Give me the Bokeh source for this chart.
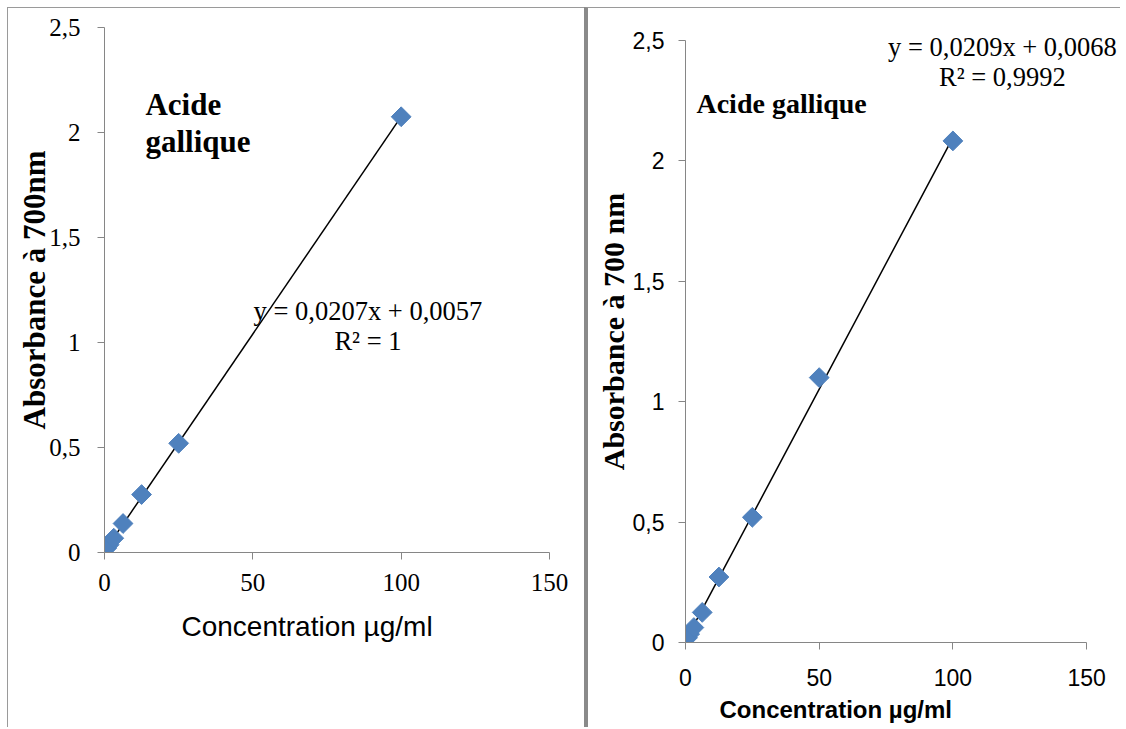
import numpy as np
from bokeh.plotting import figure
from bokeh.layouts import row
from bokeh.models import Range1d, FixedTicker, Label, CustomJSTickFormatter, Title
from bokeh.embed import file_html
from bokeh.resources import INLINE

# ---------------- data ----------------
left_conc = [0.78, 1.56, 3.125, 6.25, 12.5, 25, 100]
left_abs = [0.021, 0.037, 0.068, 0.138, 0.276, 0.52, 2.075]
left_slope, left_intercept, left_r2 = 0.0207, 0.0057, "1"

right_conc = [0.78, 1.56, 3.125, 6.25, 12.5, 25, 50, 100]
right_abs = [0.02, 0.035, 0.062, 0.125, 0.272, 0.52, 1.10, 2.083]
right_slope, right_intercept, right_r2 = 0.0209, 0.0068, "0,9992"

x_ticks = [0, 50, 100, 150]
y_ticks = [0, 0.5, 1, 1.5, 2, 2.5]

title_text = "Acide gallique"
x_label = "Concentration  µg/ml"
left_y_label = "Absorbance à 700nm"
right_y_label = "Absorbance à 700 nm"

SERIF = "'Liberation Serif', 'Times New Roman', serif"
SANS = "'Liberation Sans', Arial, sans-serif"
AXIS_COL = "#868686"
MARK_COL = "#4F81BD"

comma_fmt = CustomJSTickFormatter(code="return tick.toString().replace('.', ',');")


def eq_text(slope, intercept):
    return ("y = %.4fx + %.4f" % (slope, intercept)).replace(".", ",")


def base_fig(width, height, bl, br, bt, bb, styles, x_end, y_end):
    p = figure(width=width, height=height, output_backend="svg", toolbar_location=None,
               x_range=Range1d(0, x_end), y_range=Range1d(0, y_end),
               min_border_left=bl, min_border_right=br, min_border_top=bt, min_border_bottom=bb,
               styles=styles, frame_align=False)
    p.outline_line_color = None
    p.xgrid.visible = False
    p.ygrid.visible = False
    p.background_fill_color = "white"
    p.border_fill_color = "white"
    p.xaxis.ticker = FixedTicker(ticks=x_ticks)
    p.xaxis.bounds = (x_ticks[0], x_ticks[-1])
    p.yaxis.ticker = FixedTicker(ticks=y_ticks)
    p.yaxis.bounds = (y_ticks[0], y_ticks[-1])
    p.yaxis.formatter = comma_fmt
    for ax in (p.xaxis[0], p.yaxis[0]):
        ax.axis_line_color = AXIS_COL
        ax.axis_line_width = 1
        ax.major_tick_line_color = AXIS_COL
        ax.major_tick_in = 0
        ax.major_tick_out = 7
        ax.minor_tick_line_color = None
        ax.major_label_text_color = "black"
        ax.axis_label_text_color = "black"
    return p


def lbl(x, y, text, font, size, style="normal", align="left"):
    return Label(x=x, y=y, text=text, text_font=font, text_font_style=style,
                 text_font_size=size, text_align=align, text_baseline="alphabetic",
                 text_color="black")


# ---------------- left panel ----------------
pl = base_fig(577, 720, 96, 36, 19, 176,
              {"margin-top": "7px", "margin-left": "7px",
               "border-top": "1px solid #9a9a9a", "border-left": "1px solid #9a9a9a"}, 150, 2.5)
for ax in (pl.xaxis[0], pl.yaxis[0]):
    ax.major_label_text_font = SERIF
    ax.major_label_text_font_size = "25px"
pl.xaxis.major_label_standoff = 14
pl.yaxis.major_label_standoff = 17
pl.yaxis.axis_label = left_y_label
pl.yaxis.axis_label_text_font = SERIF
pl.yaxis.axis_label_text_font_style = "bold"
pl.yaxis.axis_label_text_font_size = "31px"
pl.yaxis.axis_label_standoff = -6
pl.add_layout(Title(text=x_label, align="left", offset=77, standoff=30,
                    text_font=SANS, text_font_size="28px", text_font_style="normal",
                    text_color="black"), "below")

lx = [min(left_conc), max(left_conc)]
pl.line(lx, [left_slope * v + left_intercept for v in lx], line_color="black", line_width=1.5)
pl.scatter(left_conc, left_abs, marker="square", angle=np.pi / 4, size=14,
           fill_color=MARK_COL, line_color=MARK_COL)

title_words = title_text.split(" ")
pl.add_layout(lbl(13.8, 2.133, title_words[0], SERIF, "31px", "bold"))
pl.add_layout(lbl(13.8, 1.957, title_words[1], SERIF, "31px", "bold"))
pl.add_layout(lbl(88.8, 1.152, eq_text(left_slope, left_intercept), SERIF, "26.5px", align="center"))
pl.add_layout(lbl(88.8, 1.009, "R² = " + left_r2, SERIF, "26.5px", align="center"))

# ---------------- right panel ----------------
# frame extended past 150 / 2.5 (axis lines bounded) so the equation is not cut
pr = base_fig(536, 720, 97, 5, 12, 86,
              {"margin-top": "7px",
               "border-top": "1px solid #9a9a9a", "border-left": "4px solid #8a8a8a"}, 162.3, 2.583)
for ax in (pr.xaxis[0], pr.yaxis[0]):
    ax.major_label_text_font = SANS
    ax.major_label_text_font_size = "23px"
pr.xaxis.major_label_standoff = 19
pr.yaxis.major_label_standoff = 14
pr.yaxis.axis_label = right_y_label
pr.yaxis.axis_label_text_font = SERIF
pr.yaxis.axis_label_text_font_style = "bold"
pr.yaxis.axis_label_text_font_size = "30px"
pr.yaxis.axis_label_standoff = 0
pr.add_layout(Title(text=x_label, align="left", offset=34, standoff=11,
                    text_font=SANS, text_font_size="24px", text_font_style="bold",
                    text_color="black"), "below")

rx = [min(right_conc), max(right_conc)]
pr.line(rx, [right_slope * v + right_intercept for v in rx], line_color="black", line_width=1.5)
pr.scatter(right_conc, right_abs, marker="square", angle=np.pi / 4, size=14,
           fill_color=MARK_COL, line_color=MARK_COL)

pr.add_layout(lbl(4.1, 2.238, title_text, SERIF, "28px", "bold"))
pr.add_layout(lbl(118.5, 2.471, eq_text(right_slope, right_intercept), SERIF, "26.5px", align="center"))
pr.add_layout(lbl(118.5, 2.350, "R² = " + right_r2, SERIF, "26.5px", align="center"))

layout = row(pl, pr, spacing=0)
open("out.html", "w").write(file_html(layout, INLINE))
